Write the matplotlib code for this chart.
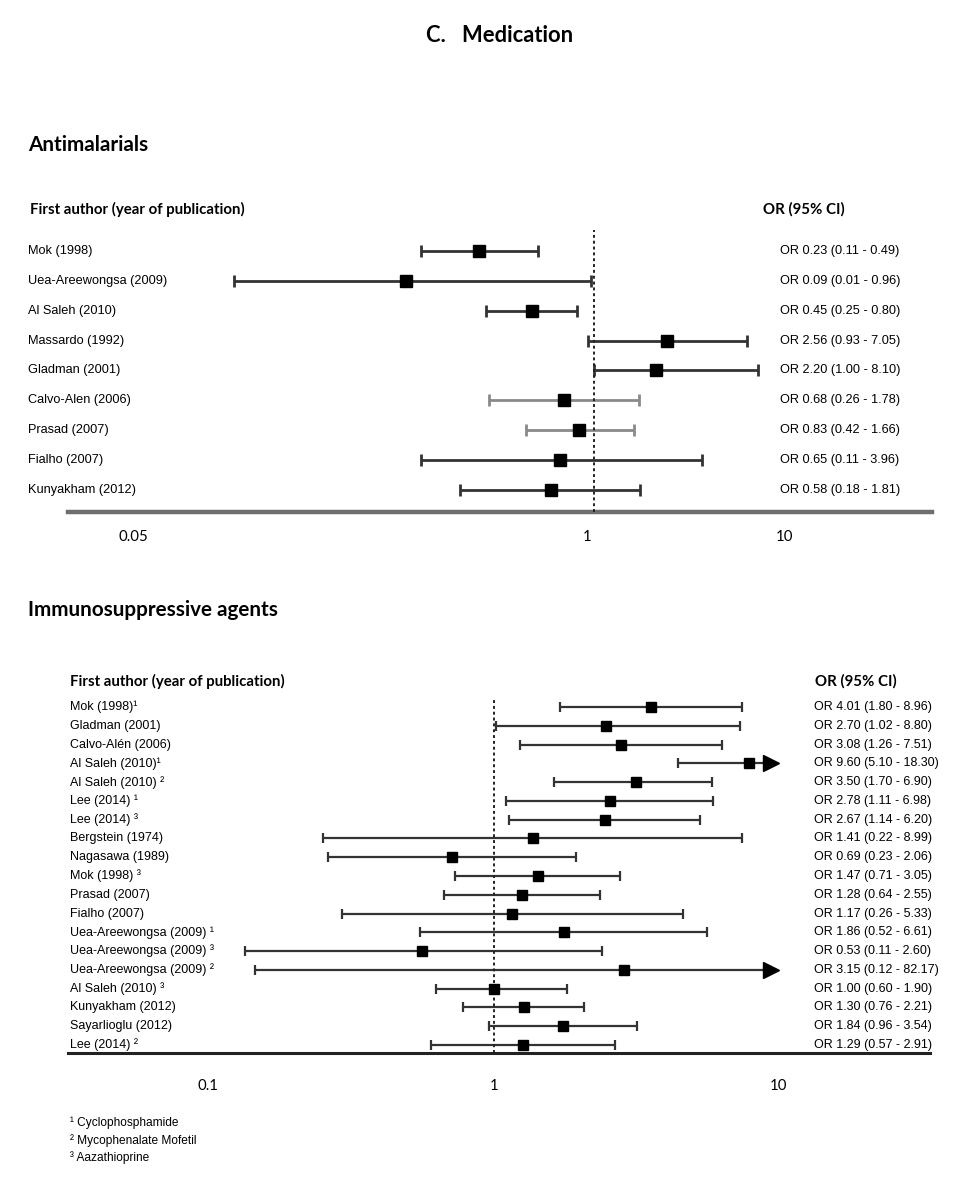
"""Forest plots, panel C (Medication): antimalarials and immunosuppressive agents."""
import matplotlib

matplotlib.use("Agg")
import matplotlib.pyplot as plt
from matplotlib.transforms import blended_transform_factory

W, H = 976, 1188

# --- Antimalarials ---
am_labels = ["Mok (1998)", "Uea-Areewongsa (2009)", "Al Saleh (2010)", "Massardo (1992)",
             "Gladman (2001)", "Calvo-Alen (2006)", "Prasad (2007)", "Fialho (2007)",
             "Kunyakham (2012)"]
am_or = [0.23, 0.09, 0.45, 2.56, 2.20, 0.68, 0.83, 0.65, 0.58]
am_lo = [0.11, 0.01, 0.25, 0.93, 1.00, 0.26, 0.42, 0.11, 0.18]
am_hi = [0.49, 0.96, 0.80, 7.05, 8.10, 1.78, 1.66, 3.96, 1.81]

# --- Immunosuppressive agents ---
is_labels = ["Mok (1998)¹", "Gladman (2001)", "Calvo-Alén (2006)", "Al Saleh (2010)¹",
             "Al Saleh (2010) ²", "Lee (2014) ¹", "Lee (2014) ³", "Bergstein (1974)",
             "Nagasawa (1989)", "Mok (1998) ³", "Prasad (2007)", "Fialho (2007)",
             "Uea-Areewongsa (2009) ¹", "Uea-Areewongsa (2009) ³", "Uea-Areewongsa (2009) ²",
             "Al Saleh (2010) ³", "Kunyakham (2012)", "Sayarlioglu (2012)", "Lee (2014) ²"]
is_or = [4.01, 2.70, 3.08, 9.60, 3.50, 2.78, 2.67, 1.41, 0.69, 1.47, 1.28, 1.17,
         1.86, 0.53, 3.15, 1.00, 1.30, 1.84, 1.29]
is_lo = [1.80, 1.02, 1.26, 5.10, 1.70, 1.11, 1.14, 0.22, 0.23, 0.71, 0.64, 0.26,
         0.52, 0.11, 0.12, 0.60, 0.76, 0.96, 0.57]
is_hi = [8.96, 8.80, 7.51, 18.30, 6.90, 6.98, 6.20, 8.99, 2.06, 3.05, 2.55, 5.33,
         6.61, 2.60, 82.17, 1.90, 2.21, 3.54, 2.91]

footnotes = ["¹ Cyclophosphamide", "² Mycophenalate Mofetil", "³ Aazathioprine"]

# the printed tick labels in the source sit off the plotted scale; keep them where they appear
am_tick_pos = [0.00275, 0.915, 11.4]
am_tick_labels = ["0.05", "1", "10"]
is_tick_pos = [0.0794, 1.0, 12.4]
is_tick_labels = ["0.1", "1", "10"]

BOLD = "Lato"
SANS = "Liberation Sans"


def fx(x):
    return x / W


def fy(y):
    return 1 - y / H


def forest(ax, labels, ors, los, his, xlim, ylim, clip=None, lw=1.8, cap=9,
           msize=8, light_rows=(), label_x=28, or_x=780, fs=9):
    ax.set_xscale("log")
    ax.set_xlim(*xlim)
    ax.set_ylim(*ylim)
    for i, (o, lo, hi) in enumerate(zip(ors, los, his)):
        col = "#8a8a8a" if i in light_rows else "#333333"
        right = hi if clip is None or hi <= clip else clip
        ax.hlines(i, lo, right, color=col, lw=lw, zorder=2)
        ax.plot([lo], [i], marker="|", ms=cap, mew=lw, color=col, zorder=2)
        if right == hi:
            ax.plot([hi], [i], marker="|", ms=cap, mew=lw, color=col, zorder=2)
        else:
            ax.plot([clip], [i], marker=">", ms=11, color="black", zorder=4)
        ax.plot([o], [i], marker="s", ms=msize, color="black", zorder=4)
    ax.axvline(1, color="#222222", lw=1.4, ls=(0, (1.5, 1.5)), zorder=3)
    tr = blended_transform_factory(ax.figure.transFigure, ax.transData)
    for i, lab in enumerate(labels):
        ax.text(fx(label_x), i, lab, transform=tr, ha="left", va="center",
                fontsize=fs, family=SANS)
        ax.text(fx(or_x), i, f"OR {ors[i]:.2f} ({los[i]:.2f} - {his[i]:.2f})",
                transform=tr, ha="left", va="center", fontsize=fs, family=SANS)
    for s in ("top", "left", "right"):
        ax.spines[s].set_visible(False)
    ax.set_yticks([])
    ax.minorticks_off()


fig = plt.figure(figsize=(W / 100, H / 100), dpi=100)

fig.text(fx(500), fy(36), "C.   Medication", ha="center", va="center",
         fontsize=15.8, fontweight="bold", family=BOLD)

# top panel
fig.text(fx(28), fy(145), "Antimalarials", ha="left", va="center",
         fontsize=14.9, fontweight="bold", family=BOLD)
fig.text(fx(30), fy(209), "First author (year of publication)", ha="left", va="center",
         fontsize=10.8, fontweight="bold", family=BOLD)
fig.text(fx(763), fy(209), "OR (95% CI)", ha="left", va="center",
         fontsize=10.8, fontweight="bold", family=BOLD)

ax1 = fig.add_axes([fx(68), fy(512), fx(932 - 68), (512 - 230) / H])
forest(ax1, am_labels, am_or, am_lo, am_hi,
       xlim=(0.001196, 75.5), ylim=(8.74, -0.7),
       lw=2.0, cap=9, msize=8, light_rows=(5, 6), label_x=28, or_x=780, fs=9.2)
ax1.spines["bottom"].set_color("#6e6e6e")
ax1.spines["bottom"].set_linewidth(3.2)
ax1.set_xticks(am_tick_pos)
ax1.set_xticklabels(am_tick_labels, family=BOLD, fontsize=10.8)
ax1.tick_params(axis="x", length=0, pad=13)

# bottom panel
fig.text(fx(28), fy(610), "Immunosuppressive agents", ha="left", va="center",
         fontsize=14.9, fontweight="bold", family=BOLD)
fig.text(fx(70), fy(681), "First author (year of publication)", ha="left", va="center",
         fontsize=10.8, fontweight="bold", family=BOLD)
fig.text(fx(815), fy(681), "OR (95% CI)", ha="left", va="center",
         fontsize=10.8, fontweight="bold", family=BOLD)

ax2 = fig.add_axes([fx(68), fy(1053), fx(930 - 68), (1053 - 698) / H])
forest(ax2, is_labels, is_or, is_lo, is_hi,
       xlim=(0.02298, 47.5), ylim=(18.43, -0.48), clip=11.66,
       lw=1.6, cap=7, msize=7, label_x=70, or_x=814)
ax2.spines["bottom"].set_color("#222222")
ax2.spines["bottom"].set_linewidth(2.2)
ax2.set_xticks(is_tick_pos)
ax2.set_xticklabels(is_tick_labels, family=BOLD, fontsize=10.8)
ax2.tick_params(axis="x", length=0, pad=19)

for k, note in enumerate(footnotes):
    fig.text(fx(70), fy(1123 + 17.5 * k), note, ha="left", va="center",
             fontsize=8.6, family=SANS)

fig.savefig("out.png", dpi=100)
